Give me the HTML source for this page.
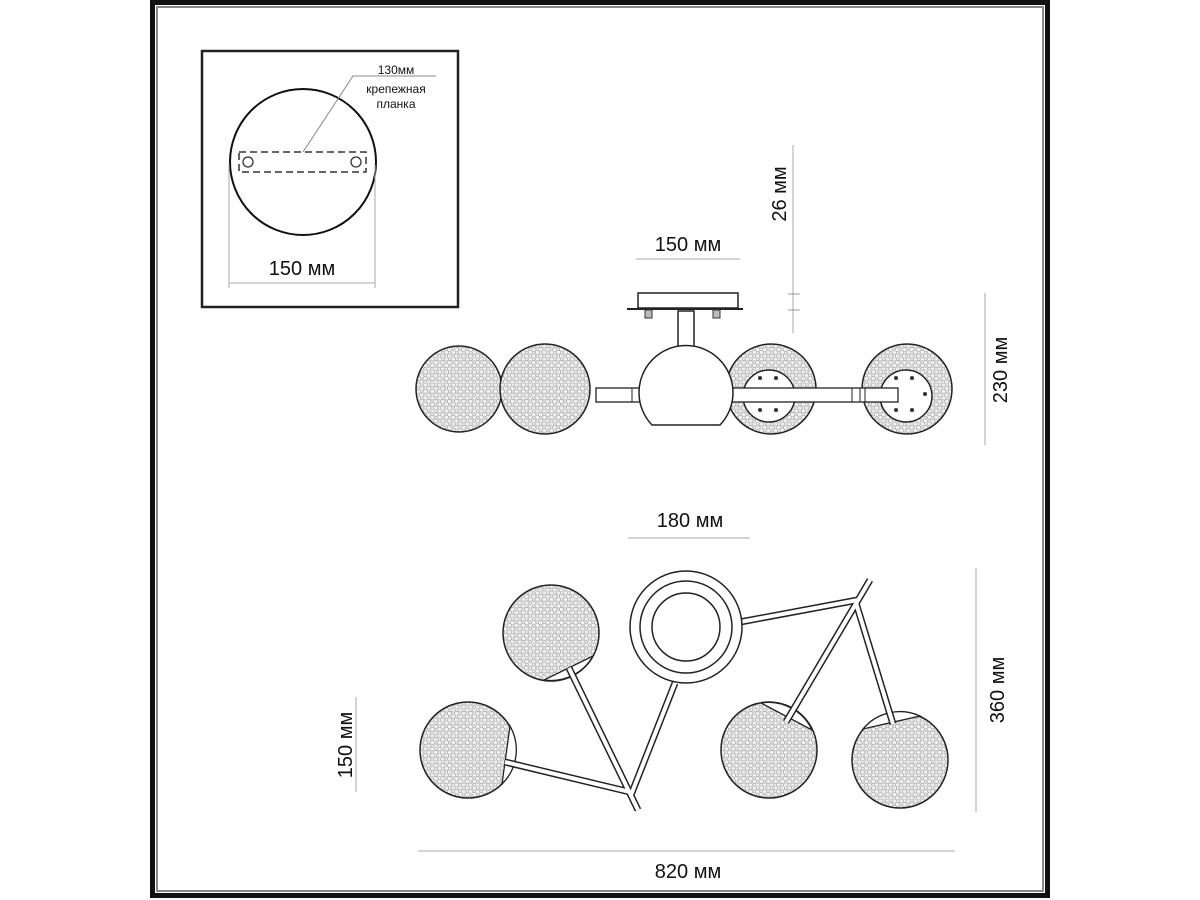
<!DOCTYPE html>
<html><head><meta charset="utf-8"><style>
html,body{margin:0;padding:0;background:#fff;}
svg{display:block;}
text{font-family:"Liberation Sans",Arial,sans-serif;fill:#111;}
</style></head><body>
<svg width="1200" height="900" viewBox="0 0 1200 900" xmlns="http://www.w3.org/2000/svg">
<defs>
<pattern id="dots" width="7" height="6.5" patternUnits="userSpaceOnUse">
<rect width="7" height="6.5" fill="#f0f0f0"/>
<circle cx="1.75" cy="1.6" r="1.6" fill="none" stroke="#aaa" stroke-width="0.8"/>
<circle cx="5.25" cy="4.85" r="1.6" fill="none" stroke="#aaa" stroke-width="0.8"/>
</pattern>
</defs>
<rect x="0" y="0" width="1200" height="900" fill="#fff"/>
<rect x="152.5" y="2.5" width="895" height="893" fill="none" stroke="#111" stroke-width="5"/>
<rect x="157" y="7" width="886" height="884" fill="none" stroke="#888" stroke-width="2"/>

<rect x="202" y="51" width="256" height="256" fill="none" stroke="#222" stroke-width="2.5"/>
<circle cx="303" cy="162" r="73" fill="none" stroke="#111" stroke-width="2"/>
<rect x="239" y="152" width="127" height="20" fill="none" stroke="#333" stroke-width="1.5" stroke-dasharray="7,4"/>
<circle cx="248" cy="162" r="5" fill="none" stroke="#333" stroke-width="1.3"/>
<circle cx="356" cy="162" r="5" fill="none" stroke="#333" stroke-width="1.3"/>
<polyline points="303,152 353,76 436,76" fill="none" stroke="#888" stroke-width="1"/>
<text x="396" y="74" font-size="12" text-anchor="middle">130мм</text>
<text x="396" y="93" font-size="12" text-anchor="middle">крепежная</text>
<text x="396" y="108" font-size="12" text-anchor="middle">планка</text>
<line x1="229" y1="165" x2="229" y2="288" stroke="#aaa" stroke-width="1"/>
<line x1="375" y1="165" x2="375" y2="288" stroke="#aaa" stroke-width="1"/>
<line x1="229" y1="283" x2="375" y2="283" stroke="#aaa" stroke-width="1"/>
<text x="302" y="275" font-size="20" text-anchor="middle">150 мм</text>

<line x1="636" y1="259" x2="740" y2="259" stroke="#aaa" stroke-width="1"/>
<text x="688" y="251" font-size="20" text-anchor="middle">150 мм</text>
<line x1="793" y1="145" x2="793" y2="333" stroke="#aaa" stroke-width="1"/>
<line x1="788" y1="294" x2="800" y2="294" stroke="#999" stroke-width="1"/>
<line x1="788" y1="310" x2="800" y2="310" stroke="#999" stroke-width="1"/>
<text transform="translate(786,194) rotate(-90)" font-size="20" text-anchor="middle">26 мм</text>
<line x1="985" y1="293" x2="985" y2="445" stroke="#aaa" stroke-width="1"/>
<text transform="translate(1007,370) rotate(-90)" font-size="20" text-anchor="middle">230 мм</text>

<rect x="638" y="293" width="100" height="15" fill="#fff" stroke="#222" stroke-width="1.5"/>
<line x1="627" y1="309" x2="743" y2="309" stroke="#222" stroke-width="2"/>
<rect x="645" y="310" width="7" height="8" fill="#bbb" stroke="#333" stroke-width="1"/>
<rect x="713" y="310" width="7" height="8" fill="#bbb" stroke="#333" stroke-width="1"/>
<rect x="678" y="311" width="16" height="37" fill="#fff" stroke="#222" stroke-width="1.5"/>
<circle cx="459" cy="389" r="43" fill="url(#dots)" stroke="#222" stroke-width="1.5"/>
<circle cx="545" cy="389" r="45" fill="url(#dots)" stroke="#222" stroke-width="1.5"/>
<circle cx="771" cy="389" r="45" fill="url(#dots)" stroke="#222" stroke-width="1.5"/>
<circle cx="907" cy="389" r="45" fill="url(#dots)" stroke="#222" stroke-width="1.5"/>
<circle cx="769" cy="396" r="26" fill="#fff" stroke="#222" stroke-width="1.5"/>
<circle cx="906" cy="396" r="26" fill="#fff" stroke="#222" stroke-width="1.5"/>
<g fill="#333">
<circle cx="760" cy="378" r="2"/><circle cx="776" cy="378" r="2"/>
<circle cx="760" cy="410" r="2"/><circle cx="776" cy="410" r="2"/>
<circle cx="896" cy="378" r="2"/><circle cx="912" cy="378" r="2"/>
<circle cx="896" cy="410" r="2"/><circle cx="912" cy="410" r="2"/>
<circle cx="925" cy="394" r="2"/>
</g>
<rect x="596" y="388" width="44" height="14" fill="#fff" stroke="#222" stroke-width="1.3"/>
<line x1="632" y1="388" x2="632" y2="402" stroke="#222"/>
<rect x="732" y="388" width="166" height="14" fill="#fff" stroke="#222" stroke-width="1.3"/>
<line x1="852" y1="388" x2="852" y2="402" stroke="#222"/>
<line x1="860" y1="388" x2="860" y2="402" stroke="#222"/>
<line x1="865" y1="388" x2="865" y2="402" stroke="#222"/>
<path d="M652,425 A47,47 0 1 1 720,425 Z" fill="#fff" stroke="#222" stroke-width="1.5"/>

<line x1="628" y1="538" x2="750" y2="538" stroke="#aaa" stroke-width="1"/>
<text x="690" y="527" font-size="20" text-anchor="middle">180 мм</text>
<line x1="356" y1="697" x2="356" y2="792" stroke="#aaa" stroke-width="1"/>
<text transform="translate(352,745) rotate(-90)" font-size="20" text-anchor="middle">150 мм</text>
<line x1="976" y1="568" x2="976" y2="812" stroke="#aaa" stroke-width="1"/>
<text transform="translate(1004,690) rotate(-90)" font-size="20" text-anchor="middle">360 мм</text>
<line x1="418" y1="851" x2="955" y2="851" stroke="#aaa" stroke-width="1"/>
<text x="688" y="878" font-size="20" text-anchor="middle">820 мм</text>

<circle cx="551" cy="633" r="48" fill="url(#dots)" stroke="#222" stroke-width="1.5"/>
<circle cx="468" cy="750" r="48" fill="url(#dots)" stroke="#222" stroke-width="1.5"/>
<circle cx="769" cy="750" r="48" fill="url(#dots)" stroke="#222" stroke-width="1.5"/>
<circle cx="900" cy="760" r="48" fill="url(#dots)" stroke="#222" stroke-width="1.5"/>
<g fill="#fff" stroke="#222" stroke-width="1.3">
<path d="M593,656 A48,48 0 0 1 544,680 Z"/>
<path d="M510,726 A48,48 0 0 1 502,784 Z"/>
<path d="M761,703 A48,48 0 0 1 812,730 Z"/>
<path d="M863,729 A48,48 0 0 1 920,716 Z"/>
</g>
<g stroke="#222" stroke-width="7" stroke-linecap="butt">
<line x1="569" y1="668" x2="638" y2="810"/>
<line x1="675" y1="683" x2="631" y2="795"/>
<line x1="505" y1="762" x2="630" y2="792"/>
<line x1="870" y1="580" x2="786" y2="722"/>
<line x1="740" y1="622" x2="858" y2="600"/>
<line x1="856" y1="603" x2="893" y2="724"/>
</g>
<g stroke="#fff" stroke-width="4">
<line x1="569" y1="668" x2="638" y2="810"/>
<line x1="675" y1="683" x2="631" y2="795"/>
<line x1="505" y1="762" x2="630" y2="792"/>
<line x1="870" y1="580" x2="786" y2="722"/>
<line x1="740" y1="622" x2="858" y2="600"/>
<line x1="856" y1="603" x2="893" y2="724"/>
</g>
<circle cx="686" cy="627" r="56" fill="#fff" stroke="#222" stroke-width="1.5"/>
<circle cx="686" cy="627" r="46" fill="none" stroke="#222" stroke-width="1.5"/>
<circle cx="686" cy="627" r="34" fill="none" stroke="#222" stroke-width="1.5"/>
</svg>
</body></html>
